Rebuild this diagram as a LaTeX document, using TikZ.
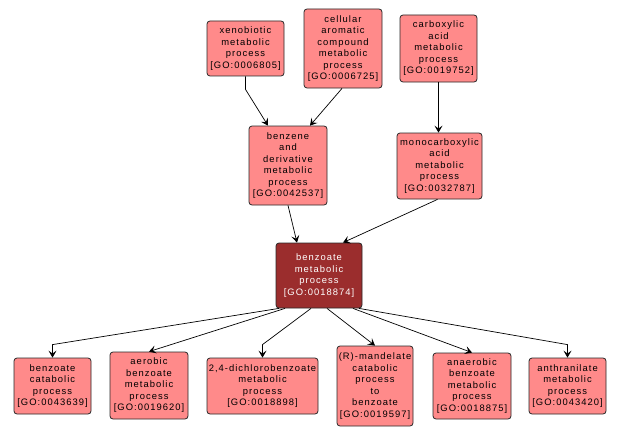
\documentclass[tikz,border=0pt]{standalone}
\usepackage{fontspec}
\setmainfont{Liberation Sans}
\newfontfamily\lblfont[LetterSpace=11]{Liberation Sans}
\usetikzlibrary{arrows.meta}
\definecolor{pinkfill}{RGB}{255,138,138}
\definecolor{darkfill}{RGB}{155,45,45}
\definecolor{edgecol}{RGB}{40,40,40}
\tikzset{
  term/.style={draw=edgecol, line width=0.8pt, rounded corners=3pt, fill=pinkfill,
    align=center, inner sep=0pt, font=\lblfont\fontsize{9.4}{11.5}\selectfont, text=black},
  focus/.style={term, fill=darkfill, text=white},
  conn/.style={draw=black, line width=0.7pt, -{Stealth[length=7pt,width=8pt,inset=3pt]}}
}
\begin{document}
\begin{tikzpicture}[x=1pt,y=-1pt]
\useasboundingbox (0,0) rectangle (621,436);
% top row
\node[term, minimum width=77pt, minimum height=55pt] (xeno) at (245.5,48.5) {xenobiotic\\metabolic\\process\\{[GO:0006805]}};
\node[term, minimum width=78pt, minimum height=79pt] (cell) at (343,48.5) {cellular\\aromatic\\compound\\metabolic\\process\\{[GO:0006725]}};
\node[term, minimum width=77pt, minimum height=67pt] (carb) at (438.5,48.5) {carboxylic\\acid\\metabolic\\process\\{[GO:0019752]}};
% middle row
\node[term, minimum width=78pt, minimum height=79pt] (benz) at (288,165.5) {benzene\\and\\derivative\\metabolic\\process\\{[GO:0042537]}};
\node[term, minimum width=85pt, minimum height=66pt] (mono) at (439.5,166) {monocarboxylic\\acid\\metabolic\\process\\{[GO:0032787]}};
% center
\node[focus, minimum width=86pt, minimum height=65pt] (ctr) at (319,275.5) {benzoate\\metabolic\\process\\{[GO:0018874]}};
% bottom row
\node[term, minimum width=77pt, minimum height=56pt] (bc) at (52.5,386) {benzoate\\catabolic\\process\\{[GO:0043639]}};
\node[term, minimum width=78pt, minimum height=67pt] (aer) at (149,385.5) {aerobic\\benzoate\\metabolic\\process\\{[GO:0019620]}};
\node[term, minimum width=111pt, minimum height=56pt] (dich) at (262.5,386) {2,4-dichlorobenzoate\\metabolic\\process\\{[GO:0018898]}};
\node[term, minimum width=76pt, minimum height=80pt] (mand) at (375,386) {(R)-mandelate\\catabolic\\process\\to\\benzoate\\{[GO:0019597]}};
\node[term, minimum width=78pt, minimum height=66pt] (anae) at (472,386) {anaerobic\\benzoate\\metabolic\\process\\{[GO:0018875]}};
\node[term, minimum width=77pt, minimum height=56pt] (anth) at (567.5,386) {anthranilate\\metabolic\\process\\{[GO:0043420]}};
% edges top
\draw[conn] (xeno.south) -- ([yshift=-13pt]xeno.south) -- ([xshift=-20pt]benz.north);
\draw[conn] ([xshift=-1pt]cell.south) -- ([xshift=22pt]benz.north);
\draw[conn] (carb.south) -- (carb.south |- mono.north);
\draw[conn] (benz.south) -- ([xshift=-22pt]ctr.north);
\draw[conn] ([xshift=-2pt]mono.south) -- ([xshift=24pt]ctr.north);
% edges bottom
\draw[conn] ([xshift=-40pt]ctr.south) -- ([yshift=13pt]bc.north) -- (bc.north);
\draw[conn] ([xshift=-34pt]ctr.south) -- (aer.north);
\draw[conn] ([xshift=-8pt]ctr.south) -- ([yshift=13pt]dich.north) -- (dich.north);
\draw[conn] ([xshift=8pt]ctr.south) -- (mand.north);
\draw[conn] ([xshift=34pt]ctr.south) -- (anae.north);
\draw[conn] ([xshift=40pt]ctr.south) -- ([yshift=13pt]anth.north) -- (anth.north);
\end{tikzpicture}
\end{document}
